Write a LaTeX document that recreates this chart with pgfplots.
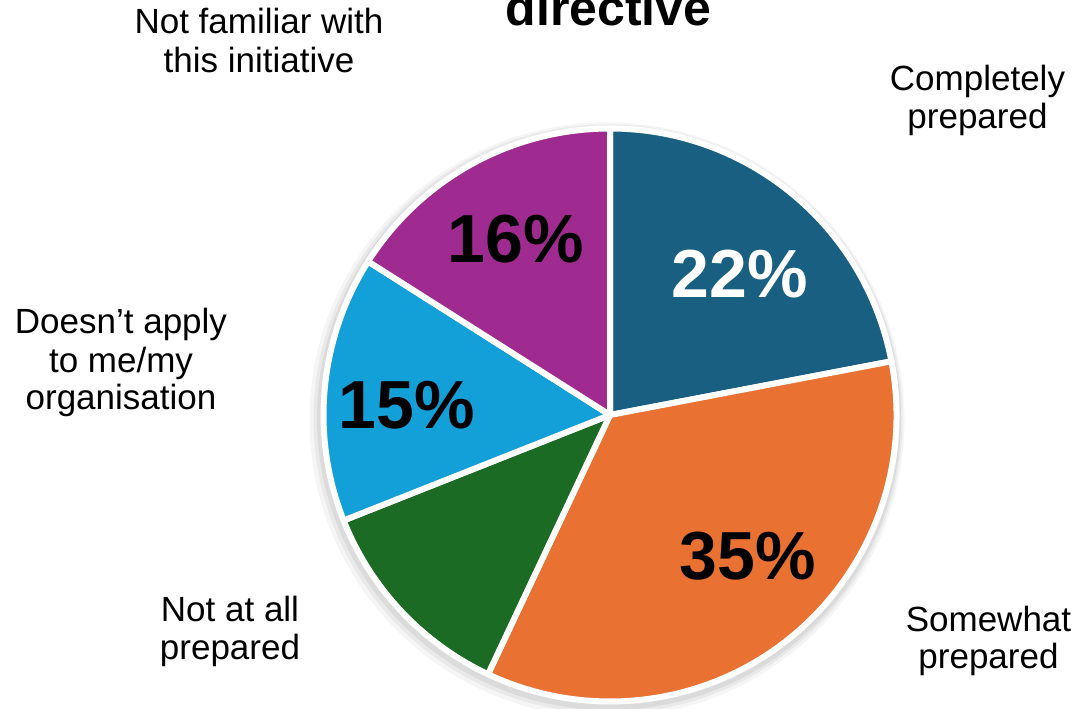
\documentclass[border=0pt]{standalone}
\usepackage{fontspec}
\setmainfont{Liberation Sans}
\usepackage{pgfplots}
\usepackage{pgfplotstable}
\pgfplotsset{compat=1.18}

\definecolor{cA}{HTML}{195F82}
\definecolor{cB}{HTML}{E97132}
\definecolor{cC}{HTML}{1B6B25}
\definecolor{cD}{HTML}{139FD7}
\definecolor{cE}{HTML}{A02B90}

% share of answers, clockwise from the top
\pgfplotstableread{
value color
22 cA
35 cB
12 cC
15 cD
16 cE
}\piedata

% where the percentages sit (picture pixels, y up)
\pgfplotstableread{
x y value
515.5 446 16
407 280 15
748 129 35
}\darklabels
\pgfplotstableread{
x y value
740 411.4 22
}\lightlabels

\newcommand\lab{\fontsize{14}{16.8}\selectfont}

\begin{document}
\begin{tikzpicture}
  % build the slices from the table
  \def\R{114.6pt}
  \def\slices{}
  \def\startangle{90}
  \pgfplotsforeachungrouped \i in {0,...,4}{%
    \pgfplotstablegetelem{\i}{value}\of\piedata \let\sliceval\pgfplotsretval
    \pgfplotstablegetelem{\i}{color}\of\piedata \let\slicecol\pgfplotsretval
    \pgfmathsetmacro\endangle{\startangle-3.6*\sliceval}%
    \edef\slices{\unexpanded\expandafter{\slices}%
      \noexpand\filldraw[fill=\slicecol, draw=white, line width=2.4pt, line join=round]
      (axis cs:610,294) -- ++(\startangle:\R)
      arc[start angle=\startangle, end angle=\endangle, radius=\R] -- cycle;}%
    \let\startangle\endangle
  }
  \begin{axis}[
      x=0.4pt, y=0.4pt,
      xmin=0, xmax=1092, ymin=0, ymax=709,
      hide axis, clip=false,
      anchor=south west, at={(0,0)},
      /pgf/number format/assume math mode=true,
    ]
    \coordinate (BL) at (axis cs:0,0);
    \coordinate (TR) at (axis cs:1092,709);

    % soft shadow
    \fill[black, opacity=0.04] (axis cs:607,289) circle[radius=119pt];
    \fill[black, opacity=0.05] (axis cs:608,290) circle[radius=117.8pt];
    \fill[black, opacity=0.06] (axis cs:609,291) circle[radius=116.8pt];

    \slices

    \addplot[draw=none, point meta=explicit,
      nodes near coords={\pgfmathprintnumber{\pgfplotspointmeta}\%},
      nodes near coords style={anchor=base, inner sep=0pt,
        font=\fontsize{27.2}{30}\selectfont\bfseries, text=black}]
      table[meta=value] {\darklabels};
    \addplot[draw=none, point meta=explicit,
      nodes near coords={\pgfmathprintnumber{\pgfplotspointmeta}\%},
      nodes near coords style={anchor=base, inner sep=0pt,
        font=\fontsize{27.2}{30}\selectfont\bfseries, text=white}]
      table[meta=value] {\lightlabels};

    \begin{scope}[every node/.style={anchor=base, inner sep=0pt, font=\lab}]
      \node at (axis cs:608.5,683) {\fontsize{20}{24}\selectfont\bfseries directive};
      \node at (axis cs:259,675) {Not familiar with};
      \node at (axis cs:259,636) {this initiative};
      \node at (axis cs:977.5,618) {Completely};
      \node at (axis cs:977.5,580) {prepared};
      \node at (axis cs:121,375) {Doesn’t apply};
      \node at (axis cs:121,336) {to me/my};
      \node at (axis cs:121,299) {organisation};
      \node at (axis cs:230,87.3) {Not at all};
      \node at (axis cs:230,49) {prepared};
      \node at (axis cs:988.5,77.3) {Somewhat};
      \node at (axis cs:988.5,40) {prepared};
    \end{scope}
  \end{axis}
  \pgfresetboundingbox
  \path[use as bounding box] (BL) rectangle (TR);
\end{tikzpicture}
\end{document}
